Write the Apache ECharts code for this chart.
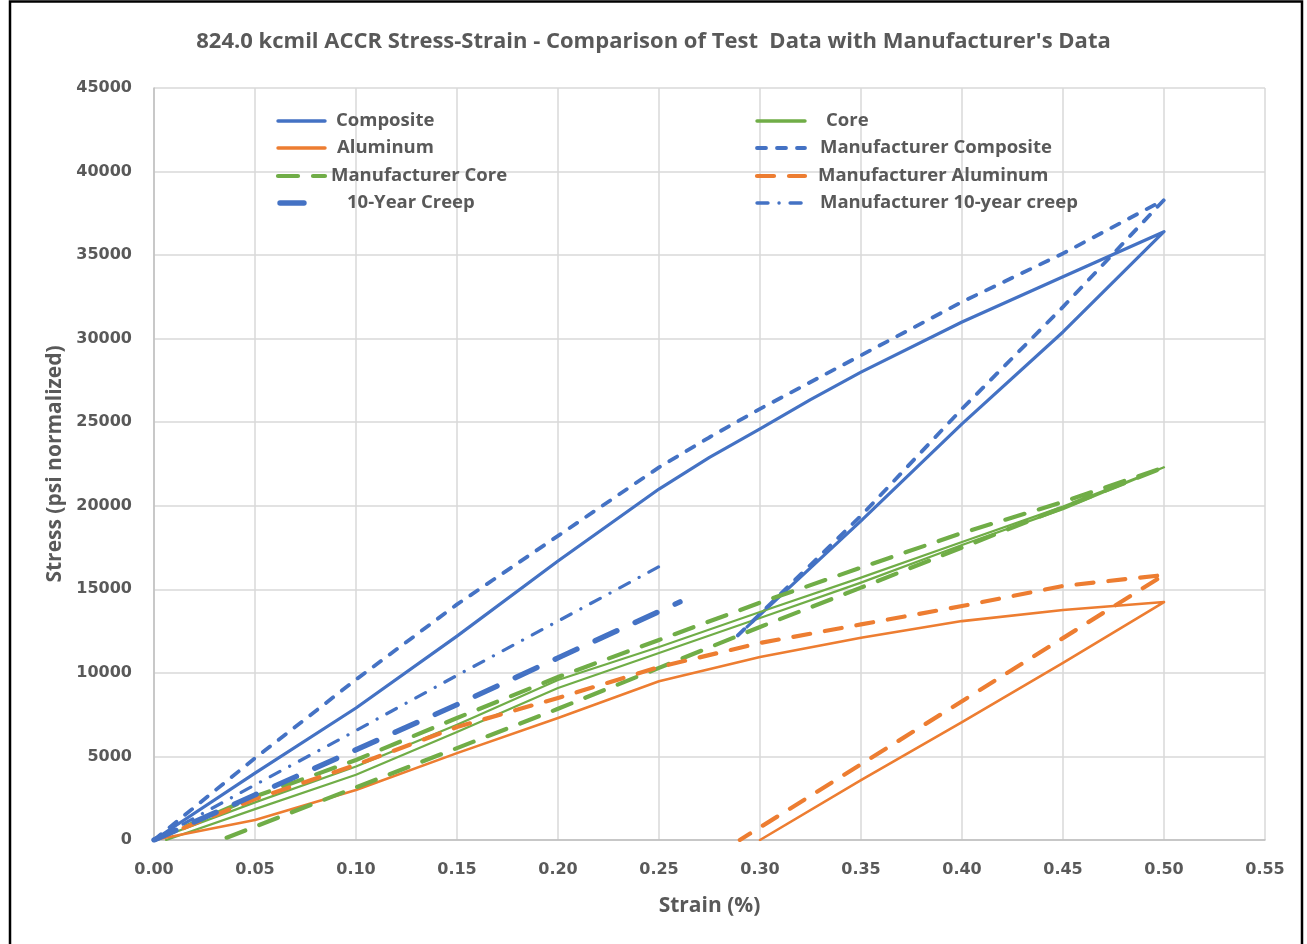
<!DOCTYPE html>
<html>
<head>
<meta charset="utf-8">
<title>824.0 kcmil ACCR Stress-Strain</title>
<script src="https://cdn.jsdelivr.net/npm/echarts@6/dist/echarts.min.js"></script>
<style>
  html, body { margin: 0; padding: 0; background: #fff; }
  #chart { width: 1307px; height: 944px; }
</style>
</head>
<body>
<div id="chart"></div>
<script>
// Stress-strain curves, [strain %, stress psi] pairs.
const compositeData = [
  [0, 0], [0.05, 4000], [0.10, 7900], [0.15, 12200], [0.20, 16700], [0.25, 21000],
  [0.275, 22900], [0.30, 24600], [0.325, 26350], [0.35, 28000], [0.40, 31000], [0.45, 33700], [0.50, 36400],
  [0.45, 30400], [0.40, 24900], [0.35, 19100], [0.2936, 12750]
];
const coreData = [
  [0, 0], [0.05, 2250], [0.10, 4400], [0.15, 6900], [0.20, 9570], [0.25, 11550],
  [0.30, 13640], [0.35, 15700], [0.40, 17830], [0.45, 19950], [0.50, 22300],
  [0.45, 19800], [0.40, 17650], [0.35, 15400], [0.30, 13280], [0.25, 11190],
  [0.20, 9100], [0.15, 6460], [0.10, 3900], [0.05, 1850], [0.006, 0]
];
const aluminumData = [
  [0, 0], [0.05, 1200], [0.10, 2990], [0.15, 5200], [0.20, 7300], [0.25, 9500],
  [0.30, 10950], [0.35, 12100], [0.40, 13100], [0.45, 13760], [0.50, 14240],
  [0.45, 10600], [0.40, 7060], [0.35, 3590], [0.30, 0]
];
const mfrCompositeData = [
  [0, 0], [0.05, 4900], [0.10, 9600], [0.15, 14100], [0.20, 18200], [0.25, 22300],
  [0.275, 24100], [0.30, 25800], [0.35, 29000], [0.40, 32200], [0.45, 35100], [0.50, 38300],
  [0.45, 31900], [0.40, 25800], [0.35, 19400], [0.287, 12000]
];
const mfrCoreData = [
  [0, 0], [0.05, 2600], [0.10, 4790], [0.15, 7300], [0.20, 9750], [0.25, 11970],
  [0.30, 14200], [0.35, 16300], [0.40, 18370], [0.45, 20230], [0.50, 22300],
  [0.45, 19900], [0.40, 17500], [0.35, 15100], [0.30, 12750], [0.25, 10300],
  [0.20, 7850], [0.15, 5500], [0.10, 3150], [0.05, 800], [0.033, 0]
];
const mfrAluminumData = [
  [0, 0], [0.05, 2450], [0.10, 4500], [0.15, 6760], [0.20, 8500], [0.25, 10350],
  [0.30, 11790], [0.35, 12900], [0.40, 14000], [0.45, 15200], [0.50, 15860],
  [0.29, 0]
];
const creepData = [
  [0, 0], [0.05, 2700], [0.10, 5400], [0.15, 8100], [0.20, 10900], [0.2604, 14250]
];
const mfrCreepData = [
  [0, 0], [0.05, 3300], [0.10, 6550], [0.15, 9850], [0.20, 13100], [0.2545, 16650]
];

const xTicks = { min: 0, max: 0.55, step: 0.05 };
const yTicks = { min: 0, max: 45000, step: 5000 };

const BLUE = '#4472C4', ORANGE = '#ED7D31', GREEN = '#70AD47';
const TEXT = '#595959';
const LABEL_FONT = 'DejaVu Sans, Verdana, sans-serif';
const TITLE_FONT = "'Open Sans', 'Noto Sans', sans-serif";

// name, data, colour, width, dash pattern
const seriesDefs = [
  ['Composite', compositeData, BLUE, 3.2, null],
  ['Core', coreData, GREEN, 2.2, null],
  ['Aluminum', aluminumData, ORANGE, 2.6, null],
  ['Manufacturer Composite', mfrCompositeData, BLUE, 3.8, [9, 11]],
  ['Manufacturer Core', mfrCoreData, GREEN, 4.2, [20, 15]],
  ['Manufacturer Aluminum', mfrAluminumData, ORANGE, 4.2, [17, 15]],
  ['10-Year Creep', creepData, BLUE, 5.4, [24, 20]],
  ['Manufacturer 10-year creep', mfrCreepData, BLUE, 3.2, [11, 11, 0.1, 11]]
];

const series = seriesDefs.map(([name, data, color, width, dash]) => ({
  name, type: 'line', data,
  showSymbol: false, symbol: 'none', smooth: false,
  lineStyle: { color, width, type: dash || 'solid', cap: 'round', join: 'round' },
  itemStyle: { color },
  emphasis: { disabled: true }
}));

// Two-column key inside the plot area: [series index, line x0, line x1, text x, row y]
const keyLayout = [
  [0, 278, 325, 336, 121], [1, 757, 805, 826, 121],
  [2, 278, 325, 337, 148], [3, 757, 805, 820, 148],
  [4, 278, 325, 331, 176], [5, 757, 805, 818, 176],
  [6, 280, 318, 347, 203], [7, 757, 805, 820, 203]
];
const keyGraphics = [];
keyLayout.forEach(([i, x0, x1, tx, y]) => {
  const [name, , color, width, dash] = seriesDefs[i];
  keyGraphics.push({
    type: 'line', silent: true, z: 50,
    shape: { x1: x0, y1: y, x2: x1, y2: y },
    style: { stroke: color, lineWidth: Math.max(width, 3.4), lineDash: dash || null, lineCap: 'round' }
  });
  keyGraphics.push({
    type: 'text', silent: true, z: 50, x: tx, y,
    style: {
      text: name, fill: TEXT, font: "bold 18.5px 'Open Sans', 'Noto Sans', sans-serif",
      verticalAlign: 'middle', align: 'left'
    }
  });
});

const chart = echarts.init(document.getElementById('chart'), null, { renderer: 'canvas' });
chart.setOption({
  animation: false,
  backgroundColor: '#fff',
  title: {
    text: "824.0 kcmil ACCR Stress-Strain - Comparison of Test  Data with Manufacturer's Data",
    left: 'center', top: 26,
    textStyle: { color: TEXT, fontSize: 22, fontWeight: 'bold', fontFamily: TITLE_FONT }
  },
  grid: { left: 154, right: 42, top: 88, bottom: 104 },
  xAxis: {
    type: 'value', min: xTicks.min, max: xTicks.max, interval: xTicks.step,
    name: 'Strain (%)', nameLocation: 'middle', nameGap: 56,
    nameTextStyle: { color: TEXT, fontSize: 21, fontWeight: 'bold', fontFamily: TITLE_FONT },
    axisLine: { lineStyle: { color: '#bfbfbf', width: 1.5 } },
    axisTick: { show: false },
    splitLine: { lineStyle: { color: '#d9d9d9', width: 1.5 } },
    axisLabel: {
      color: TEXT, fontSize: 16, fontWeight: 'bold', fontFamily: LABEL_FONT, margin: 22,
      formatter: v => v.toFixed(2)
    }
  },
  yAxis: {
    type: 'value', min: yTicks.min, max: yTicks.max, interval: yTicks.step,
    name: 'Stress (psi normalized)', nameLocation: 'middle', nameGap: 82,
    nameTextStyle: { color: TEXT, fontSize: 21, fontWeight: 'bold', fontFamily: TITLE_FONT },
    axisLine: { show: true, lineStyle: { color: '#bfbfbf', width: 1.5 } },
    axisTick: { show: false },
    splitLine: { lineStyle: { color: '#d9d9d9', width: 1.5 } },
    axisLabel: {
      color: TEXT, fontSize: 16, fontWeight: 'bold', fontFamily: LABEL_FONT, margin: 22,
      formatter: v => String(v)
    }
  },
  graphic: keyGraphics.concat([{
    type: 'rect', silent: true, z: 100,
    shape: { x: 10, y: 1.5, width: 1292, height: 960 },
    style: { fill: 'none', stroke: '#000', lineWidth: 2.5 }
  }]),
  series
});
</script>
</body>
</html>
